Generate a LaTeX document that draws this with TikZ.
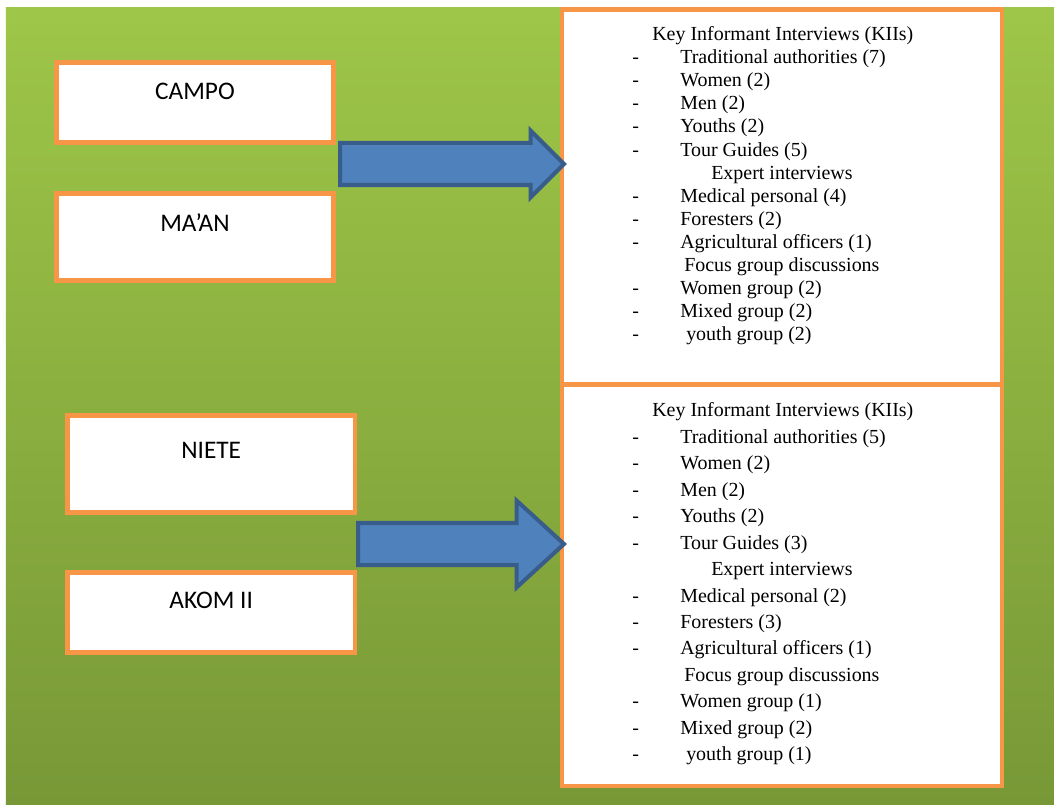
\documentclass[tikz,border=0pt]{standalone}
\usepackage{fontspec}
\setmainfont{Liberation Serif}
\newfontfamily\carlito{Carlito}
\usetikzlibrary{shapes.arrows}
\definecolor{bgtop}{RGB}{158,198,72}
\definecolor{bgbot}{RGB}{120,152,55}
\definecolor{boxorange}{RGB}{247,150,70}
\definecolor{arrfill}{RGB}{79,129,189}
\definecolor{arrdraw}{RGB}{56,93,138}
\newcommand{\dashitem}[1]{\makebox[1.2cm][l]{-}#1}

\begin{document}
\begin{tikzpicture}[
    sitebox/.style={
      draw=boxorange, line width=3.5pt, fill=white, inner sep=0pt,
      minimum width=6.925cm
    },
    sitename/.style={
      font=\carlito\fontsize{18}{22}\selectfont, inner sep=0pt
    },
    listbox/.style={
      draw=boxorange, line width=3.5pt, fill=white, inner sep=0pt,
      minimum width=11cm
    },
    listtext/.style={
      anchor=base west, inner sep=0pt
    },
    bigarrow/.style={
      single arrow, draw=arrdraw, fill=arrfill, line width=2.85pt,
      inner xsep=0pt, inner ysep=0.475cm, minimum width=0pt,
      single arrow tip angle=90, anchor=tail
    },
  ]
    \fill[white] (0,0) rectangle (26.35,-20.125);
    \useasboundingbox (0,0) rectangle (26.35,-20.125);
    \shade[top color=bgtop, bottom color=bgbot] (0.15,-0.2) rectangle (26.35,-20.125);

    \node[sitebox, minimum height=2cm] (campo) at (4.875,-2.5625) {};
    \node[sitebox, minimum height=2.175cm] (maan) at (4.875,-5.925) {};
    \node[sitebox, minimum width=7.19cm, minimum height=2.425cm] (niete) at (5.28,-11.6) {};
    \node[sitebox, minimum width=7.19cm, minimum height=2cm] (akom) at (5.28,-15.31) {};
    \node[sitename, yshift=-0.79cm] (campoT) at (campo.north) {CAMPO};
    \node[sitename, yshift=-0.79cm] (maanT) at (maan.north) {MA’AN};
    \node[sitename, yshift=-0.94cm] (nieteT) at (niete.north) {NIETE};
    \node[sitename, yshift=-0.765cm] (akomT) at (akom.north) {AKOM II};

    \node[listbox, minimum height=9.375cm] (kiiA) at (19.55,-4.925) {};
    \node[listbox, minimum height=10.04cm] (kiiB) at (19.55,-14.63) {};

    \node[listtext, font=\fontsize{14.2}{16.39}\selectfont] (listA) at (15.8,-1.02) {%
      \begin{tabular}[t]{@{}l@{}}
        \hspace*{0.5cm}Key Informant Interviews (KIIs)\\
        \dashitem{Traditional authorities (7)}\\
        \dashitem{Women (2)}\\
        \dashitem{Men (2)}\\
        \dashitem{Youths (2)}\\
        \dashitem{Tour Guides (5)}\\
        \hspace*{1.975cm}Expert interviews\\
        \dashitem{Medical personal (4)}\\
        \dashitem{Foresters (2)}\\
        \dashitem{Agricultural officers (1)}\\
        \hspace*{1.3cm}Focus group discussions\\
        \dashitem{Women group (2)}\\
        \dashitem{Mixed group (2)}\\
        \dashitem{\hspace*{0.15cm}youth group (2)}
      \end{tabular}};
    \node[listtext, font=\fontsize{14.2}{18.82}\selectfont] (listB) at (15.8,-10.42) {%
      \begin{tabular}[t]{@{}l@{}}
        \hspace*{0.5cm}Key Informant Interviews (KIIs)\\
        \dashitem{Traditional authorities (5)}\\
        \dashitem{Women (2)}\\
        \dashitem{Men (2)}\\
        \dashitem{Youths (2)}\\
        \dashitem{Tour Guides (3)}\\
        \hspace*{1.975cm}Expert interviews\\
        \dashitem{Medical personal (2)}\\
        \dashitem{Foresters (3)}\\
        \dashitem{Agricultural officers (1)}\\
        \hspace*{1.3cm}Focus group discussions\\
        \dashitem{Women group (1)}\\
        \dashitem{Mixed group (2)}\\
        \dashitem{\hspace*{0.15cm}youth group (1)}
      \end{tabular}};

    \node[bigarrow, minimum height=5.6cm, single arrow head extend=0.3125cm] (arrA) at (8.45,-4.1) {};
    \node[bigarrow, minimum height=5.15cm, single arrow head extend=0.5625cm,
      single arrow tip angle=85] (arrB) at (8.9,-13.6) {};
  \end{tikzpicture}
\end{document}
